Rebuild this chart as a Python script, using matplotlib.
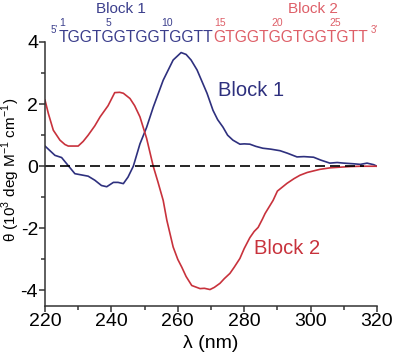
import matplotlib
matplotlib.use("Agg")
from matplotlib import pyplot as plt
from matplotlib.ticker import MultipleLocator

plt.rcParams['font.family'] = ['Liberation Sans', 'DejaVu Sans']
plt.rcParams['mathtext.fontset'] = 'custom'
plt.rcParams['mathtext.rm'] = 'Liberation Sans'
plt.rcParams['axes.unicode_minus'] = False

# CD spectra
block1_x = [220, 221.5, 223, 225, 227, 229, 231, 233, 235, 237, 238.6, 240.6, 242, 243.6,
            245, 246.6, 248.6, 250.6, 252.6, 255.6, 258.6, 261, 262.5, 264, 265.8, 267,
            268.8, 270.6, 272, 273.6, 275, 276.6, 278.7, 280, 281.7, 283.5, 285.6, 288,
            290.8, 293, 295.9, 298, 300.9, 303, 305.8, 308, 310, 312.8, 315, 317, 319, 320]
block1_y = [0.65, 0.50, 0.35, 0.28, 0.02, -0.24, -0.28, -0.32, -0.45, -0.62, -0.66, -0.52,
            -0.52, -0.56, -0.35, 0.0, 0.72, 1.25, 1.9, 2.77, 3.42, 3.66, 3.6, 3.42, 3.1,
            2.8, 2.35, 1.8, 1.5, 1.26, 1.0, 0.84, 0.71, 0.72, 0.71, 0.64, 0.58, 0.55, 0.5,
            0.42, 0.3, 0.31, 0.29, 0.2, 0.1, 0.12, 0.1, 0.08, 0.06, 0.1, 0.05, 0.0]

block2_x = [220, 221, 222.5, 224.5, 226, 227, 230, 231.5, 233, 235, 236.6, 239, 241, 242.5,
            243.6, 245.6, 247, 248.6, 250.6, 252.6, 254, 255.6, 256.7, 258.6, 260, 261.2,
            262.5, 264.2, 266.7, 268, 269.7, 271, 272.7, 274, 275.7, 277, 278.7, 280, 281.7,
            283, 284.2, 285.5, 286.3, 288.7, 290, 292.9, 295, 296.8, 299, 302.8, 306, 308.9,
            312, 315, 320]
block2_y = [2.13, 1.7, 1.16, 0.84, 0.7, 0.65, 0.65, 0.8, 1.0, 1.3, 1.59, 1.95, 2.37, 2.38,
            2.35, 2.18, 1.95, 1.59, 0.9, 0.0, -0.5, -1.1, -1.74, -2.6, -3.0, -3.25, -3.55,
            -3.84, -3.94, -3.93, -3.97, -3.9, -3.77, -3.62, -3.45, -3.25, -2.97, -2.65, -2.3,
            -2.1, -1.97, -1.7, -1.52, -1.1, -0.8, -0.55, -0.4, -0.29, -0.2, -0.1, -0.05,
            -0.03, -0.01, 0.0, 0.0]

seq1 = "TGGTGGTGGTGGTT"
seq2 = "GTGGTGGTGGTGTT"
numbers = ["1", "5", "10", "15", "20", "25"]
number_px = [62, 108, 167, 220, 277, 335]

blue = '#2e307e'
red = '#c8323c'
blue_lt = '#3b3e8c'
red_lt = '#de5f68'

W, H = 394, 358
fig = plt.figure(figsize=(W / 100, H / 100), dpi=100)
ax = fig.add_axes([45 / W, 1 - 306 / H, 332 / W, 264 / H])

ax.plot(block1_x, block1_y, color=blue, lw=1.2)
ax.plot(block2_x, block2_y, color=red, lw=1.2)
ax.plot([220, 316], [0, 0], color='k', lw=1.2, dashes=(6, 3))

ax.set_xlim(220, 320)
ax.set_ylim(-4.5, 4)
ax.spines['top'].set_visible(False)
ax.spines['right'].set_visible(False)
for s in ['left', 'bottom']:
    ax.spines[s].set_linewidth(1.1)
    ax.spines[s].set_color('#333333')
ax.xaxis.set_major_locator(MultipleLocator(20))
ax.xaxis.set_minor_locator(MultipleLocator(10))
ax.yaxis.set_major_locator(MultipleLocator(2))
ax.yaxis.set_minor_locator(MultipleLocator(1))
ax.tick_params(which='major', length=4, width=1.1, labelsize=14, pad=1, color='#333333')
ax.tick_params(which='minor', length=3, width=1.1, color='#333333')

ax.set_xlabel('λ (nm)', fontsize=14, labelpad=4)
ax.set_ylabel(r'θ (10$^{\mathregular{3}}$ deg M$^{\mathregular{-1}}$ cm$^{\mathregular{-1}}$)',
              fontsize=11)
ax.yaxis.set_label_coords((21.5 - 45) / 332, (306 - 170) / 264)

ax.text(282, 2.45, "Block 1", color=blue, fontsize=14.5, ha='center', va='center')
ax.text(293, -2.65, "Block 2", color=red, fontsize=14.5, ha='center', va='center')

# sequence header
def fx(px):
    return px / W

def fy(py):
    return 1 - py / H

t1 = fig.text(fx(59), fy(42), seq1, color=blue_lt, fontsize=11.3, va='baseline')
ax.annotate(seq2, xy=(1, 0), xycoords=t1, va='bottom', ha='left', color=red_lt,
            fontsize=11.3, annotation_clip=False)
fig.text(fx(58), fy(33), "5'", color=blue_lt, fontsize=7, ha='right', va='baseline')
fig.text(fx(371), fy(33), "3'", color=red_lt, fontsize=7, ha='left', va='baseline')
for i in range(len(numbers)):
    c = blue_lt if i < 3 else red_lt
    fig.text(fx(number_px[i]), fy(26), numbers[i], color=c, fontsize=7.5, ha='center',
             va='baseline')
fig.text(fx(121), fy(13), "Block 1", color=blue_lt, fontsize=11, ha='center', va='baseline')
fig.text(fx(313), fy(13), "Block 2", color=red_lt, fontsize=11, ha='center', va='baseline')

fig.savefig("out.png", dpi=100)
